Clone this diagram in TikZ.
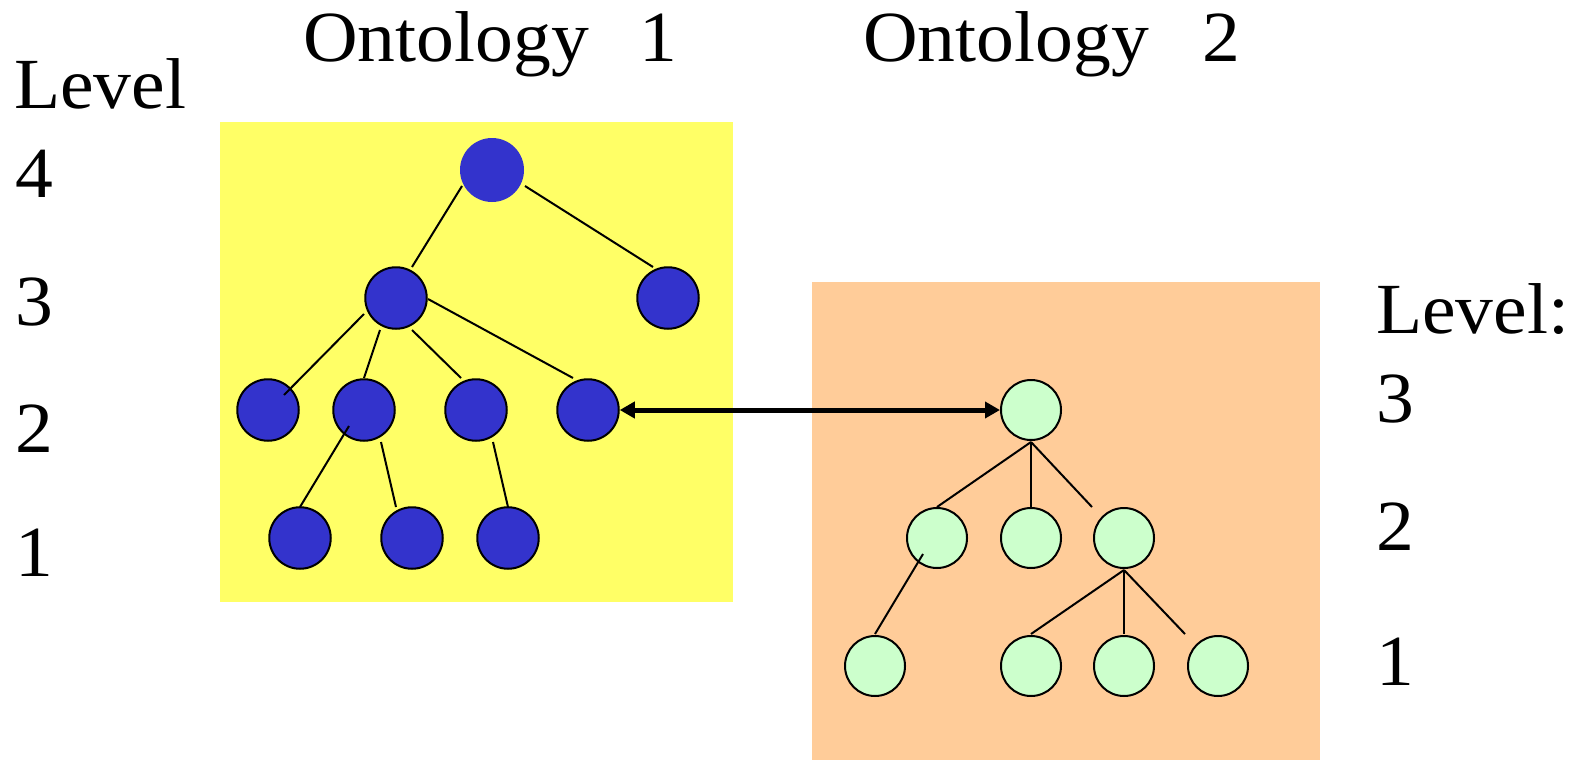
\documentclass[tikz,border=0pt]{standalone}
\usepackage{fontspec}
\setmainfont{Liberation Serif}[FakeStretch=1.05]
\usetikzlibrary{arrows.meta,calc}
\definecolor{ylw}{HTML}{FFFF66}
\definecolor{org}{HTML}{FFCC99}
\definecolor{blu}{HTML}{3333CC}
\definecolor{grn}{HTML}{CCFFCC}
\tikzset{maptip/.tip={Triangle[length=15pt,width=16pt]}}
\begin{document}
\begin{tikzpicture}[x=1pt,y=-1pt,
  bnode/.style={circle,fill=blu,draw=black,line width=2pt,minimum size=61.5pt,inner sep=0pt},
  broot/.style={circle,fill=blu,minimum size=64pt,inner sep=0pt,outer sep=0pt},
  gnode/.style={circle,fill=grn,draw=black,line width=2pt,minimum size=60pt,inner sep=0pt},
  edge/.style={line width=2pt},
  lbl/.style={anchor=base west,inner sep=0pt,font=\fontsize{72}{86}\selectfont}]
\useasboundingbox (0,0) rectangle (1581,760);
% backgrounds
\fill[ylw] (220,122) rectangle (733,602);
\fill[org] (812,282) rectangle (1320,760);
% labels
\node[lbl] (t1) at (303,62) {Ontology\hspace{51pt}1};
\node[lbl] (t2) at (863,62) {Ontology\hspace{54pt}2};
\node[lbl] (lvA) at (14,108) {Level};
\node[lbl] (lA4) at (15,197) {4};
\node[lbl] (lA3) at (15,325) {3};
\node[lbl] (lA2) at (15,452) {2};
\node[lbl] (lA1) at (15,576) {1};
\node[lbl] (lvB) at (1376,333) {Level:};
\node[lbl] (lB3) at (1376,422) {3};
\node[lbl] (lB2) at (1376,550) {2};
\node[lbl] (lB1) at (1376,685) {1};
% ontology 1 nodes
\node[broot] (r) at (492,170) {};
\node[bnode] (a3) at (396,298) {};
\node[bnode] (b3) at (668,298) {};
\node[bnode] (a2) at (268,410) {};
\node[bnode] (b2) at (364,410) {};
\node[bnode] (c2) at (476,410) {};
\node[bnode] (d2) at (588,410) {};
\node[bnode] (a1) at (300,538) {};
\node[bnode] (b1) at (412,538) {};
\node[bnode] (c1) at (508,538) {};
% ontology 2 nodes
\node[gnode] (g0) at (1031,410) {};
\node[gnode] (ga2) at (937,538) {};
\node[gnode] (gb2) at (1031,538) {};
\node[gnode] (gc2) at (1124,538) {};
\node[gnode] (ga1) at (875,666) {};
\node[gnode] (gb1) at (1031,666) {};
\node[gnode] (gc1) at (1124,666) {};
\node[gnode] (gd1) at (1218,666) {};
% ontology 1 edges
\draw[edge] ($(r)+(-30,16)$) -- ($(a3)+(16,-31)$);
\draw[edge] ($(r)+(33,16)$) -- ($(b3)+(-15,-31)$);
\draw[edge] ($(a3)+(-32,16)$) -- ($(a2)+(16,-15)$);
\draw[edge] ($(a3)+(-16,32)$) -- ($(b2)+(0,-32)$);
\draw[edge] ($(a3)+(16,32)$) -- ($(c2)+(-15,-32)$);
\draw[edge] ($(a3)+(32,1)$) -- ($(d2)+(-15,-32)$);
\draw[edge] ($(b2)+(-15,16)$) -- ($(a1)+(0,-31)$);
\draw[edge] ($(b2)+(17,32)$) -- ($(b1)+(-16,-31)$);
\draw[edge] ($(c2)+(17,32)$) -- ($(c1)+(0,-31)$);
% ontology 2 edges
\draw[edge] ($(g0)+(0,32)$) -- ($(ga2)+(0,-31)$);
\draw[edge] ($(g0)+(0,32)$) -- ($(gb2)+(0,-31)$);
\draw[edge] ($(g0)+(0,32)$) -- ($(gc2)+(-32,-31)$);
\draw[edge] ($(ga2)+(-14,16)$) -- ($(ga1)+(0,-32)$);
\draw[edge] ($(gc2)+(0,32)$) -- ($(gb1)+(0,-32)$);
\draw[edge] ($(gc2)+(0,32)$) -- ($(gc1)+(0,-32)$);
\draw[edge] ($(gc2)+(0,32)$) -- ($(gd1)+(-33,-32)$);
% mapping arrow
\draw[line width=5pt,maptip-maptip] (d2.east) -- (g0.west);
\end{tikzpicture}
\end{document}
